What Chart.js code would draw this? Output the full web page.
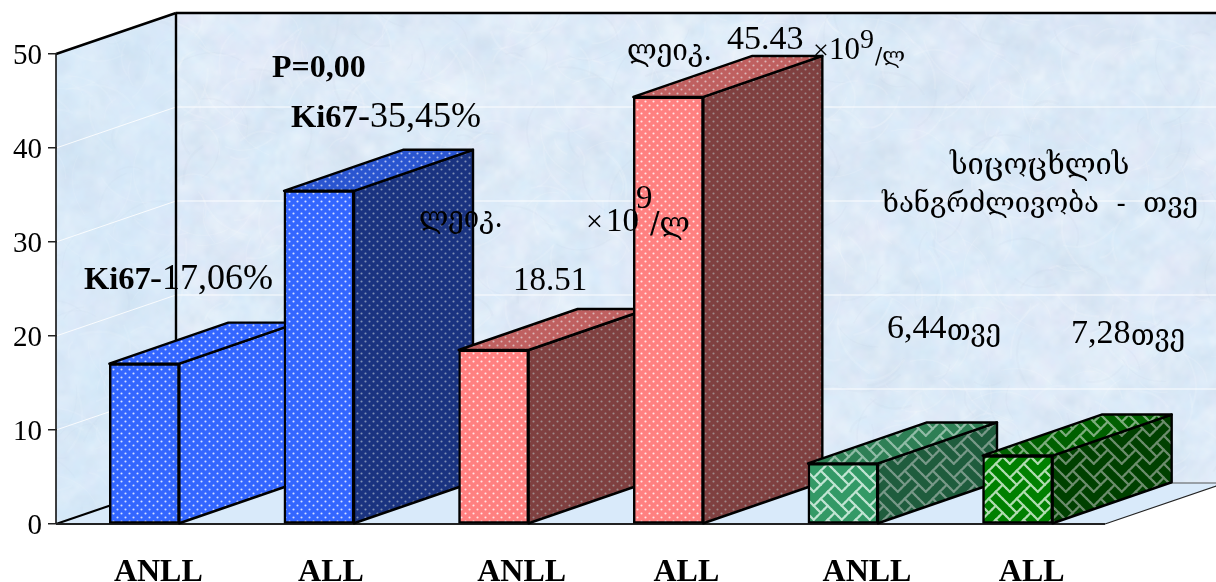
<!DOCTYPE html>
<html>
<head>
<meta charset="utf-8">
<style>html,body{margin:0;padding:0;background:#fff}canvas{display:block}</style>
<script src="https://cdn.jsdelivr.net/npm/chart.js@4.4.1/dist/chart.umd.js"></script>
</head>
<body>
<canvas id="c" width="1216" height="582"></canvas>
<script>
// ---- data ----
const categories = ['ANLL','ALL','ANLL','ALL','ANLL','ALL'];
const values = [17.06, 35.45, 18.51, 45.43, 6.44, 7.28];
const yMax = 50;
const yStep = 10;
const textPieces = ['P=0,00','Ki67','-35,45%','Ki67','-17,06%','ლეიკ.','×','10','9','/ლ','18.51','ლეიკ.','45.43','×','10','9','/ლ','სიცოცხლის','ხანგრძლივობა  -  თვე','6,44','თვე','7,28','თვე'];

// ---- layout & style ----
const SERIF = '"Liberation Serif"';
const GEO = '"DejaVu Serif"';
// x, baseline, size, bold, family, maxWidth
const textPlace = [
 [272,77,32,1,SERIF],[291,127,32.5,1,SERIF],[358,127,36,0,SERIF],[84,289,32.5,1,SERIF],[150,289,36,0,SERIF],
 [419,227,30,0,GEO,84],[586,231,30,0,SERIF],[606,231,33,0,SERIF],[636,208,33,0,SERIF],[650,233,30,0,GEO,40],
 [513,290,33,0,SERIF],[627,60,30,0,GEO,85],[727,49,34,0,SERIF],[813,59,28,0,SERIF],[829,59,31,0,SERIF],
 [860,48,28,0,SERIF],[875,63,22,0,GEO,30],
 [950,174,29,0,GEO,180],[882,212,28,0,GEO,316],
 [887,338,34,0,SERIF],[947,340,30,0,GEO,54],[1071,343,34,0,SERIF],[1131,345,30,0,GEO,54]
];
const labelShift = [14,12,28,18,24,14];
const wallDx = 120, wallDy = 41, barDx = 119, barDy = 41;

function makeTile(w,h,draw){
  const t=document.createElement('canvas');t.width=w;t.height=h;
  draw(t.getContext('2d'));return t;
}
const mainCtx=document.getElementById('c').getContext('2d');
function dots(base,dot){
  return mainCtx.createPattern(makeTile(8,8,g=>{
    g.fillStyle=base;g.fillRect(0,0,8,8);g.fillStyle=dot;
    for(const [x,y] of [[1.5,1.5],[5.5,5.5]]){g.beginPath();g.arc(x,y,1.05,0,7);g.fill();}
  }),'repeat');
}
const weaveBits=[0x88,0x54,0x22,0x45,0x88,0x14,0x22,0x51];
function weave(base,light){
  const C=3.5,S=8*C;
  const on=(r,c)=>(weaveBits[(r+8)%8]&(0x80>>((c+8)%8)))!==0;
  return mainCtx.createPattern(makeTile(S,S,g=>{
    g.fillStyle=base;g.fillRect(0,0,S,S);
    g.strokeStyle=light;g.lineWidth=2.2;g.lineCap='round';
    for(let r=0;r<8;r++)for(let c=0;c<8;c++){
      if(!on(r,c))continue;
      for(const d of [-1,1]){
        if(!on(r+1,c+d))continue;
        for(const ox of [-S,0,S])for(const oy of [-S,0,S]){
          g.beginPath();
          g.moveTo((c+.5)*C+ox,(r+.5)*C+oy);
          g.lineTo((c+d+.5)*C+ox,(r+1.5)*C+oy);
          g.stroke();
        }
      }
    }
  }),'repeat');
}
const faces=[
 {front:dots('#3366ff','#d5e0ff'),side:dots('#3366ff','#d5e0ff'),top:dots('#3366ff','#d5e0ff')},
 {front:dots('#3366ff','#d5e0ff'),side:dots('#1a3380','#8090b5'),top:dots('#2a55d0','#b0c0ee')},
 {front:dots('#ff8080','#ffe6e6'),side:dots('#7f4040','#a08c8c'),top:dots('#bf6060','#dcb8b8')},
 {front:dots('#ff8080','#ffe6e6'),side:dots('#7f4040','#a08c8c'),top:dots('#bf6060','#dcb8b8')},
 {front:weave('#339966','#c0e4d2'),side:weave('#1f5c3d','#789888'),top:weave('#2e7f55','#90bca6')},
 {front:weave('#008000','#b0dcb0'),side:weave('#004000','#6c8c6c'),top:weave('#006000','#7cac7c')}
];

// mottled paper texture for the walls: noise cells scaled up so they go soft
function texture(){
  let s=12345;const r=()=>(s=(s*1664525+1013904223)>>>0)/4294967296;
  const t=document.createElement('canvas');t.width=1216;t.height=582;
  const g=t.getContext('2d');
  g.fillStyle='#dcebf8';g.fillRect(0,0,1216,582);
  g.imageSmoothingEnabled=true;g.imageSmoothingQuality='high';
  const cols=[[255,255,255],[195,210,228],[232,226,246],[208,234,252]];
  for(const [cell,alpha] of [[36,.30],[12,.28],[5,.16]]){
    const w=Math.ceil(1216/cell)+1,h=Math.ceil(582/cell)+1;
    const n=document.createElement('canvas');n.width=w;n.height=h;
    const c=n.getContext('2d');
    for(let y=0;y<h;y++)for(let x=0;x<w;x++){
      const k=cols[Math.floor(r()*4)];
      c.fillStyle='rgba('+k[0]+','+k[1]+','+k[2]+','+(r()*alpha)+')';c.fillRect(x,y,1,1);
    }
    g.drawImage(n,0,0,w*cell,h*cell);
  }
  for(let i=0;i<1000;i++){
    g.strokeStyle=r()<.75?'rgba(255,255,255,.13)':'rgba(185,200,222,.09)';
    g.lineWidth=1+r()*1.4;
    const x=r()*1216,y=r()*582,a=r()*6.28,l=10+r()*30;
    g.beginPath();g.moveTo(x,y);
    g.quadraticCurveTo(x+Math.cos(a)*l,y+Math.sin(a)*l,x+Math.cos(a+.5)*l*1.6,y+Math.sin(a+.5)*l*1.6);
    g.stroke();
  }
  return mainCtx.createPattern(t,'no-repeat');
}
const paper=texture();

function poly(ctx,pts,fill,stroke,lw){
  ctx.beginPath();pts.forEach((p,i)=>i?ctx.lineTo(p[0],p[1]):ctx.moveTo(p[0],p[1]));ctx.closePath();
  if(fill){ctx.fillStyle=fill;ctx.fill();}
  if(stroke){ctx.strokeStyle=stroke;ctx.lineWidth=lw;ctx.lineJoin='round';ctx.stroke();}
}
function line(ctx,a,b,c,d,col,lw){ctx.beginPath();ctx.moveTo(a,b);ctx.lineTo(c,d);ctx.strokeStyle=col;ctx.lineWidth=lw;ctx.stroke();}

const walls={
  id:'walls',
  beforeDraw(chart){
    const ctx=chart.ctx,y=chart.scales.y,a=chart.chartArea;
    ctx.save();
    ctx.fillStyle='#fff';ctx.fillRect(0,0,1216,582);
    const L=a.left-1,R=a.right,B=y.getPixelForValue(0),T=y.getPixelForValue(yMax);
    const far=R+wallDx;
    poly(ctx,[[L+wallDx,T-wallDy],[far,T-wallDy],[far,B-wallDy],[L+wallDx,B-wallDy]],paper);
    poly(ctx,[[L,T],[L+wallDx,T-wallDy],[L+wallDx,B-wallDy],[L,B]],paper);
    poly(ctx,[[L,T],[L+wallDx,T-wallDy],[L+wallDx,B-wallDy],[L,B]],'rgba(205,232,252,.25)');
    poly(ctx,[[L,B],[L+wallDx,B-wallDy],[far,B-wallDy],[R,B]],'#d9eafa');
    for(let v=yStep;v<yMax;v+=yStep){
      const p=y.getPixelForValue(v);
      line(ctx,L,p,L+wallDx,p-wallDy,'rgba(255,255,255,.85)',1);
      line(ctx,L+wallDx,p-wallDy,far,p-wallDy,'rgba(255,255,255,.6)',1.3);
    }
    line(ctx,L+wallDx,B-wallDy,far,B-wallDy,'#555',1.2);
    line(ctx,L,T,L+wallDx,T-wallDy,'#000',2.4);
    line(ctx,L+wallDx,T-wallDy,far,T-wallDy,'#000',2.4);
    line(ctx,L+wallDx,T-wallDy,L+wallDx,B-wallDy,'#000',2.4);
    line(ctx,L,T,L,B,'#000',1.5);
    line(ctx,L,B,L+wallDx,B-wallDy,'#000',2.2);
    line(ctx,R,B,far,B-wallDy,'#222',1.2);
    line(ctx,L,B,R,B,'#222',1.8);
    ctx.restore();
    // move the axis labels to where the reference has them
    const items=chart.scales.x.getLabelItems();
    if(!items.shifted){items.forEach((it,i)=>{it.options.translation[0]+=labelShift[i];});items.shifted=true;}
    const yItems=chart.scales.y.getLabelItems();
    if(!yItems.shifted){yItems.forEach(it=>{it.options.translation[1]+=2;});yItems.shifted=true;}
  },
  afterDatasetsDraw(chart){
    const ctx=chart.ctx,bars=chart.getDatasetMeta(0).data;
    ctx.save();
    bars.forEach((b,i)=>{
      const l=b.x-b.width/2,r=b.x+b.width/2;
      poly(ctx,[[r,b.y],[r+barDx,b.y-barDy],[r+barDx,b.base-barDy],[r,b.base]],faces[i].side,'#000',2.4);
      poly(ctx,[[l,b.y],[l+barDx,b.y-barDy],[r+barDx,b.y-barDy],[r,b.y]],faces[i].top,'#000',2.4);
      b.draw(ctx);
    });
    ctx.fillStyle='#000';ctx.textBaseline='alphabetic';ctx.textAlign='left';
    textPieces.forEach((t,i)=>{
      const [x,base,size,bold,fam,mw]=textPlace[i];
      ctx.font=(bold?'bold ':'')+size+'px '+fam;
      if(mw)ctx.fillText(t,x,base,mw);else ctx.fillText(t,x,base);
    });
    ctx.restore();
  }
};

new Chart(document.getElementById('c'),{
  type:'bar',
  data:{labels:categories,datasets:[{
    data:values,
    backgroundColor:faces.map(f=>f.front),
    borderColor:'#000',borderWidth:2.4,borderSkipped:false,barThickness:70
  }]},
  options:{
    responsive:false,animation:false,devicePixelRatio:1,
    layout:{padding:{left:0,right:111,top:54,bottom:0}},
    plugins:{legend:{display:false},tooltip:{enabled:false},title:{display:false}},
    scales:{
      x:{
        afterFit(s){s.height=58;},
        grid:{display:false},border:{display:false},
        ticks:{color:'#000',font:{family:SERIF,size:32,weight:'bold'},padding:22,maxRotation:0,autoSkip:false}
      },
      y:{
        min:0,max:yMax,
        afterFit(s){s.width=57;},
        grid:{drawOnChartArea:false,drawTicks:true,tickLength:9,tickColor:'#222',lineWidth:1.5},
        border:{display:false},
        ticks:{stepSize:yStep,color:'#000',font:{family:SERIF,size:29},padding:6}
      }
    }
  },
  plugins:[walls]
});
</script>
</body>
</html>
